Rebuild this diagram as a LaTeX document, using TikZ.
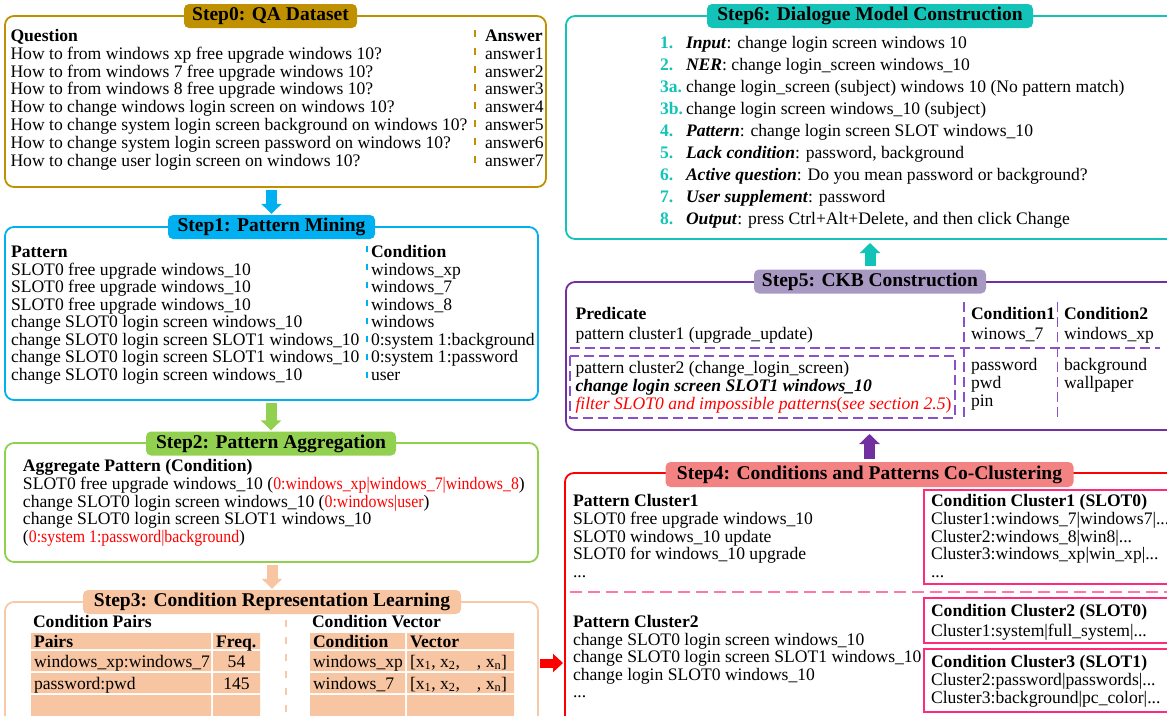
\documentclass[tikz,border=0pt]{standalone}
\usepackage{fontspec}
\usepackage{graphicx}
\setmainfont{Liberation Serif}
\usetikzlibrary{arrows.meta,calc}
\definecolor{cGold}{HTML}{BF9000}
\definecolor{cBlue}{HTML}{00B0F0}
\definecolor{cGreen}{HTML}{92D050}
\definecolor{cPeach}{HTML}{F8C5A2}
\definecolor{cPeachLine}{HTML}{F8C9A8}
\definecolor{cTeal}{HTML}{14C3B8}
\definecolor{cPurple}{HTML}{7030A0}
\definecolor{cLav}{HTML}{A899C3}
\definecolor{cRed}{HTML}{FF0000}
\definecolor{cSalmon}{HTML}{F38383}
\definecolor{cPink}{HTML}{FF2B7A}
\definecolor{cPinkDash}{HTML}{FF77A8}
\definecolor{cDashPurple}{HTML}{8B4FC8}
\newcommand\threedots{...}
\newcommand\redtx[1]{\textcolor{cRed}{\scalebox{0.9}[1]{#1}}}
\newcommand\rowsat[5]{\foreach \rt [count=\ri] in {#5} {\node[txt] (#1\ri) at (#2,{#3+(\ri-1)*#4}) {\rt};}}
\begin{document}
\begin{tikzpicture}[x=1pt,y=-1pt,
  font={\fontsize{17.6}{18}\selectfont},
  box/.style={draw, line width=1.8pt, rounded corners=9pt, anchor=north west, inner sep=0pt, outer sep=0pt},
  ttl/.style={rounded corners=5pt, inner sep=0pt, minimum height=24pt, font={\fontsize{19.5}{20}\selectfont\bfseries}},
  txt/.style={anchor=base west, inner sep=0pt, outer sep=0pt},
  barrow/.style={line width=11pt, -{Triangle[width=20pt,length=10pt]}},
  rarrow/.style={line width=9pt, -{Triangle[width=18pt,length=10pt]}},
  cbox/.style={draw=cPink, line width=1.6pt, anchor=north west, inner sep=0pt, outer sep=0pt},
  dpl/.style={draw=cDashPurple, line width=1.5pt, dash pattern=on 10pt off 5pt},
]
\useasboundingbox (0,0) rectangle (1167,715);
\clip (0,0) rectangle (1167,715);

% ---------------- Step0
\node[box, draw=cGold, minimum width=541pt, minimum height=171pt] (b0) at (5,16) {};
\node[ttl, fill=cGold, minimum width=173pt] (t0) at (270.5,16) {Step0: QA Dataset};
\rowsat{q}{10.5}{41.5}{17.8}{\textbf{Question}, How to from windows xp free upgrade windows 10?, How to from windows 7 free upgrade windows 10?, How to from windows 8 free upgrade windows 10?, How to change windows login screen on windows 10?, How to change system login screen background on windows 10?, How to change system login screen password on windows 10?, How to change user login screen on windows 10?}
\rowsat{a}{485}{41.5}{17.8}{\textbf{Answer}, answer1, answer2, answer3, answer4, answer5, answer6, answer7}
\draw[cGold, line width=1.5pt, dash pattern=on 7pt off 11pt] (475,30) -- (475,174);

% ---------------- Step1
\node[box, draw=cBlue, minimum width=533pt, minimum height=173pt] (b1) at (5,227) {};
\node[ttl, fill=cBlue, minimum width=207pt] (t1) at (271.5,227) {Step1: Pattern Mining};
\rowsat{p}{11}{257.5}{17.57}{\textbf{Pattern}, SLOT0 free upgrade windows\_10, SLOT0 free upgrade windows\_10, SLOT0 free upgrade windows\_10, change SLOT0 login screen windows\_10, change SLOT0 login screen SLOT1 windows\_10, change SLOT0 login screen SLOT1 windows\_10, change SLOT0 login screen windows\_10}
\rowsat{c}{371}{257.5}{17.57}{\textbf{Condition}, windows\_xp, windows\_7, windows\_8, windows, 0:system 1:background, 0:system 1:password, user}
\draw[cBlue, line width=1.5pt, dash pattern=on 6pt off 12pt] (367,246) -- (367,386);

% ---------------- Step2
\node[box, draw=cGreen, minimum width=533pt, minimum height=119pt] (b2) at (5,443) {};
\node[ttl, fill=cGreen, minimum width=250pt] (t2) at (271,443.5) {Step2: Pattern Aggregation};
\rowsat{g}{23}{471.5}{17.75}{\textbf{Aggregate Pattern (Condition)}, SLOT0 free upgrade windows\_10 (\redtx{0:windows\_xp|windows\_7|windows\_8}), change SLOT0 login screen windows\_10 (\redtx{0:windows|user}), change SLOT0 login screen SLOT1 windows\_10, (\redtx{0:system 1:password|background})}

% ---------------- Step3
\node[box, draw=cPeachLine, minimum width=533pt, minimum height=130pt] (b3) at (5,602) {};
\node[ttl, fill=cPeach, minimum width=378pt] (t3) at (272,602) {Step3: Condition Representation Learning};
\fill[cPeach] (31,633) rectangle (211,649) (213,633) rectangle (260,649)
  (31,651) rectangle (211,671) (213,651) rectangle (260,671)
  (31,673) rectangle (211,693) (213,673) rectangle (260,693)
  (31,695) rectangle (211,716) (213,695) rectangle (260,716);
\fill[cPeach] (310,633) rectangle (405,649) (407,633) rectangle (514,649)
  (310,651) rectangle (405,671) (407,651) rectangle (514,671)
  (310,673) rectangle (405,693) (407,673) rectangle (514,693)
  (310,695) rectangle (405,716) (407,695) rectangle (514,716);
\node[txt] (cp) at (33,627) {\textbf{Condition Pairs}};
\node[txt] (cv) at (312,627) {\textbf{Condition Vector}};
\node[txt] (ph) at (34,647) {\textbf{Pairs}};
\node[txt] (fh) at (216,647) {\textbf{Freq.}};
\node[txt] (p1x) at (34,667) {windows\_xp:windows\_7};
\node[anchor=base, inner sep=0pt] (f1) at (236.5,667) {54};
\node[txt] (p2x) at (34,689) {password:pwd};
\node[anchor=base, inner sep=0pt] (f2) at (236.5,689) {145};
\node[txt] (ch) at (313,647) {\textbf{Condition}};
\node[txt] (vh) at (410,647) {\textbf{Vector}};
\node[txt] (c1x) at (313,667) {windows\_xp};
\node[txt] (v1) at (410,667) {[x\textsubscript{1}, x\textsubscript{2},\hspace{17pt}, x\textsubscript{n}]};
\node[txt] (c2x) at (313,689) {windows\_7};
\node[txt] (v2) at (410,689) {[x\textsubscript{1}, x\textsubscript{2},\hspace{17pt}, x\textsubscript{n}]};
\draw[cPeachLine, line width=1.5pt, dash pattern=on 7pt off 10pt] (286,620) -- (286,716);

% ---------------- Step6
\node[box, draw=cTeal, minimum width=614pt, minimum height=223pt] (b6) at (566,16) {};
\node[ttl, fill=cTeal, minimum width=326pt] (t6) at (870,16) {Step6: Dialogue Model Construction};
\begin{scope}[every node/.append style={text=cTeal, font={\fontsize{17.6}{18}\selectfont\bfseries}}]
\rowsat{n}{660}{48.5}{22}{1., 2., 3a., 3b., 4., 5., 6., 7., 8.}
\end{scope}
\rowsat{s}{686}{48.5}{22}{{\textbf{\textit{Input}}: change login screen windows 10}, {\textbf{\textit{NER}}: change login\_screen windows\_10}, change login\_screen (subject) windows 10 (No pattern match), change login screen windows\_10 (subject), \textbf{\textit{Pattern}}: change login screen SLOT windows\_10, {\textbf{\textit{Lack condition}}: password, background}, \textbf{\textit{Active question}}: Do you mean password or background?, \textbf{\textit{User supplement}}: password, {\textbf{\textit{Output}}: press Ctrl+Alt+Delete, and then click Change}}

% ---------------- Step5
\node[box, draw=cPurple, minimum width=614pt, minimum height=148pt] (b5) at (566,282) {};
\node[ttl, fill=cLav, minimum width=232pt] (t5) at (870,281.5) {Step5: CKB Construction};
\node[txt] (pr) at (575.5,319.5) {\textbf{Predicate}};
\node[txt] (pc0) at (575.5,339.5) {pattern cluster1 (upgrade\_update)};
\node[txt] (k1) at (971,319.5) {\textbf{Condition1}};
\node[txt] (k2) at (1064,319.5) {\textbf{Condition2}};
\node[txt] (k1a) at (971,339.5) {winows\_7};
\node[txt] (k2a) at (1064,339.5) {windows\_xp};
\rowsat{pc}{575.5}{373.5}{18}{pattern cluster2 (change\_login\_screen), \textbf{\textit{change login screen SLOT1 windows\_10}}, \textcolor{cRed}{\textit{filter SLOT0 and impossible patterns}(\textit{see section 2.5})}}
\rowsat{ka}{971}{370.5}{18}{password, pwd, pin}
\rowsat{kb}{1064}{370.5}{18}{background, wallpaper}
\draw[dpl] (570,348) -- (1160,348);
\draw[dpl] (964,302) -- (964,420);
\draw[dpl] (1057.5,302) -- (1057.5,420);
\draw[dpl] (570,356) rectangle (955,418);

% ---------------- Step4
\node[box, draw=cRed, minimum width=615pt, minimum height=260pt] (b4) at (565,473) {};
\node[ttl, fill=cSalmon, minimum width=408pt, minimum height=25pt] (t4) at (869.5,474.5) {Step4: Conditions and Patterns Co-Clustering};
\rowsat{pa}{573}{506.5}{17.75}{\textbf{Pattern Cluster1}, SLOT0 free upgrade windows\_10, SLOT0 windows\_10 update, SLOT0 for windows\_10 upgrade, \threedots}
\node[cbox, minimum width=251pt, minimum height=94pt] (cc1) at (924,490) {};
\rowsat{ca}{931}{506.5}{17.75}{\textbf{Condition Cluster1 (SLOT0)}, Cluster1:windows\_7|windows7|\threedots, Cluster2:windows\_8|win8|\threedots, Cluster3:windows\_xp|win\_xp|\threedots, \threedots}
\draw[draw=cPinkDash, line width=1.5pt, dash pattern=on 12pt off 6pt] (570,592) -- (1167,592);
\rowsat{pb}{573}{627.5}{17.6}{\textbf{Pattern Cluster2}, change SLOT0 login screen windows\_10, change SLOT0 login screen SLOT1 windows\_10, change login SLOT0 windows\_10, \threedots}
\node[cbox, minimum width=251pt, minimum height=45pt] (cc2) at (924,598) {};
\node[txt] (cb1) at (931,616.5) {\textbf{Condition Cluster2 (SLOT0)}};
\node[txt] (cb2) at (931,636.5) {Cluster1:system|full\_system|\threedots};
\node[cbox, minimum width=251pt, minimum height=63pt] (cc3) at (924,649) {};
\rowsat{cc}{931}{667.5}{18}{\textbf{Condition Cluster3 (SLOT1)}, Cluster2:password|passwords|\threedots, Cluster3:background|pc\_color|\threedots}

% ---------------- arrows
\coordinate (ry) at (0,663);
\draw[barrow, cBlue] ($(b0.south -| t1.north)+(0,3)$) -- ($(t1.north)+(0,-1)$);
\draw[barrow, cGreen] ($(b1.south -| t2.north)+(0,3)$) -- ($(t2.north)+(0,-1)$);
\draw[barrow, cPeach] ($(b2.south -| t3.north)+(0,3)$) -- ($(t3.north)+(0,-1)$);
\draw[barrow, cTeal] ($(t5.north)+(0,-3)$) -- ($(b6.south -| t5.north)+(0,4)$);
\draw[barrow, cPurple] ($(t4.north)+(0,-3)$) -- ($(b5.south -| t4.north)+(0,4)$);
\draw[rarrow, cRed] ($(b3.east |- ry)+(2,0)$) -- ($(b4.west |- ry)+(-2,0)$);
\end{tikzpicture}
\end{document}
